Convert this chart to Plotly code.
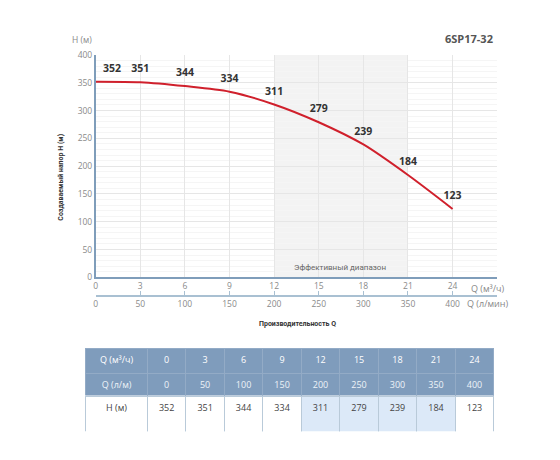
import plotly.graph_objects as go

OFF = 8  # отступ body в html-странице
W, H = 560 - 2 * OFF, 460 - 2 * OFF

# данные характеристики насоса
q_m3h = [0, 3, 6, 9, 12, 15, 18, 21, 24]
q_lmin = [0, 50, 100, 150, 200, 250, 300, 350, 400]
head_m = [352, 351, 344, 334, 311, 279, 239, 184, 123]
eff_range = [12, 21]

pump_name = '6SP17-32'
font = 'Open Sans'
blue_line = '#7f9dba'
hdr_fill = '#7f9cbc'
hl_fill = '#dce9f8'


def px_x(p):
    return (p - OFF) / W


def px_y(p):
    return 1 - (p - OFF) / H


def note(text, x, y, size=9, color='#888888', xanchor='center', family=font, **kw):
    return dict(text=text, x=px_x(x), y=px_y(y), xref='paper', yref='paper',
                showarrow=False, xanchor=xanchor, yanchor='middle',
                font=dict(family=family, size=size, color=color), **kw)


fig = go.Figure()

# кривая напора
fig.add_trace(go.Scatter(
    x=q_m3h, y=head_m, mode='lines+markers+text',
    line=dict(color='#d0202c', width=2, shape='spline', smoothing=0.8),
    marker=dict(size=10, opacity=0),
    text=[str(v) for v in head_m],
    textposition=['top right'] + ['top center'] * (len(head_m) - 1),
    textfont=dict(family=font, size=10.5, color='#333333', weight='bold'),
    cliponaxis=False, hoverinfo='skip', showlegend=False))

# невидимый след для второй оси X (л/мин)
fig.add_trace(go.Scatter(x=q_lmin, y=head_m, xaxis='x2', mode='markers',
                         marker=dict(opacity=0), hoverinfo='skip', showlegend=False))

# таблица: строки Q
fig.add_trace(go.Table(
    domain=dict(x=[px_x(84), px_x(494)], y=[px_y(400), px_y(351)]),
    columnwidth=[62] + [38.7] * len(q_m3h),
    header=dict(values=['Q (м³/ч)'] + [str(v) for v in q_m3h],
                fill_color=hdr_fill, line_color='#93abc6', height=25,
                font=dict(family=font, size=9, color='white'), align='center'),
    cells=dict(values=[['Q (л/м)']] + [[str(v)] for v in q_lmin],
               fill_color=hdr_fill, line_color='#93abc6', height=24,
               font=dict(family=font, size=9, color='#eef3f8'), align='center')))

# таблица: строка H
h_fill = ['white'] + [hl_fill if eff_range[0] <= q <= eff_range[1] else 'white' for q in q_m3h]
fig.add_trace(go.Table(
    domain=dict(x=[px_x(84), px_x(494)], y=[px_y(436), px_y(400)]),
    columnwidth=[62] + [38.7] * len(q_m3h),
    header=dict(values=['H (м)'] + [str(v) for v in head_m],
                fill_color=h_fill, line_color='#b9cad9', height=36,
                font=dict(family=font, size=9, color='#444444'), align='center'),
    cells=dict(values=[[] for _ in range(len(q_m3h) + 1)])))

# зона эффективного диапазона
fig.add_shape(type='rect', xref='x', yref='y', x0=eff_range[0], x1=eff_range[1],
              y0=0, y1=400, fillcolor='#f3f3f3', line_width=0, layer='below')

annotations = [
    dict(text='Эффективный диапазон', x=16.4, y=18, xref='x', yref='y', showarrow=False,
         xanchor='center', yanchor='middle', font=dict(family='Roboto', size=8, color='#666666')),
    note('H (м)', 80, 34, size=8.5),
    note('<b>' + pump_name + '</b>', 495, 33, size=11, color='#555555', xanchor='right'),
    note('Q (м³/ч)', 469, 289, xanchor='left'),
    note('Q (л/мин)', 465, 305, xanchor='left'),
    note('<b>Производительность Q</b>', 297, 326, size=7, color='#333333', family='Roboto'),
    note('<b>Создаваемый напор H (м)</b>', 59, 175, size=7, color='#333333', family='Roboto',
         textangle=-90),
]

fig.update_layout(
    width=W, height=H,
    margin=dict(l=0, r=0, t=0, b=0),
    paper_bgcolor='white', plot_bgcolor='white',
    annotations=annotations,
    xaxis=dict(domain=[px_x(94), px_x(497)], range=[0, 27],
               tickvals=q_m3h + [27], ticktext=[str(v) for v in q_m3h] + [''],
               showgrid=True, gridcolor='#e6e6e6', zeroline=False,
               showline=True, linecolor=blue_line, linewidth=1.5, ticks='',
               tickfont=dict(family=font, size=8.5, color='#8a8a8a')),
    xaxis2=dict(overlaying='x', anchor='free', position=px_y(297), side='bottom',
                range=[0, 450], tickvals=q_lmin, showgrid=False, zeroline=False,
                showline=True, linecolor='#a9c0d2', linewidth=2,
                ticks='inside', ticklen=4, tickcolor='#a9c0d2',
                tickfont=dict(family=font, size=8.5, color='#8a8a8a')),
    yaxis=dict(domain=[px_y(278), px_y(50)], range=[0, 400], dtick=50,
               showgrid=True, gridcolor='#e6e6e6', zeroline=False,
               minor=dict(dtick=10, showgrid=True, gridcolor='#f5f5f5'),
               showline=True, linecolor=blue_line, linewidth=1.5, ticks='',
               tickfont=dict(family=font, size=8.5, color='#8a8a8a')),
)

fig.write_html('out.html')
